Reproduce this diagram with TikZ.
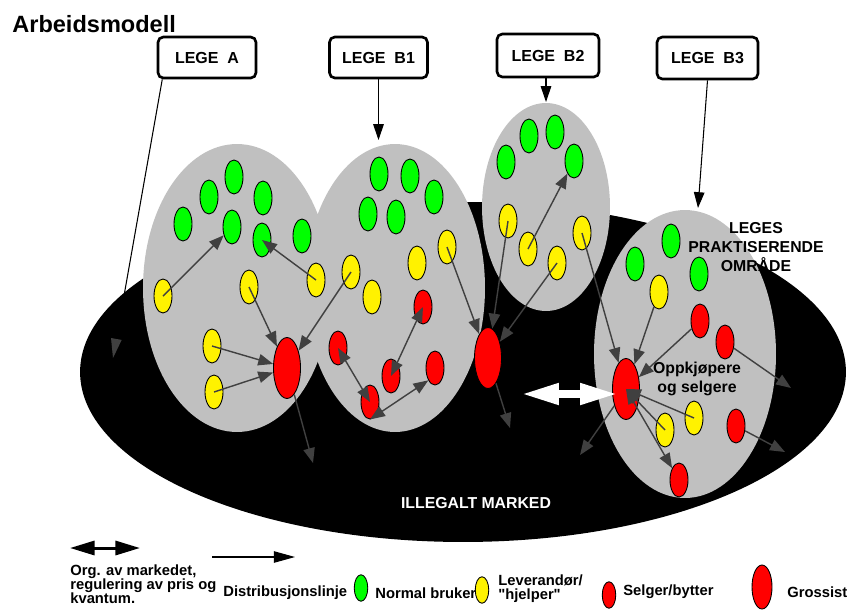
\documentclass[tikz,border=0pt]{standalone}
\usepackage{fontspec}
\setmainfont{Liberation Sans}[Ligatures=TeXOff]
\usetikzlibrary{shapes.geometric,arrows.meta}
\definecolor{areagrey}{HTML}{C0C0C0}
\definecolor{arrgrey}{HTML}{404040}

\begin{document}
\begin{tikzpicture}[
  x=0.02cm, y=-0.02cm,
  eln/.style={ellipse, draw, line width=0.5pt, inner sep=0pt,
              minimum width=0.36cm, minimum height=0.68cm},
  user/.style={eln, fill=green},
  helper/.style={eln, fill=yellow},
  seller/.style={eln, fill=red},
  whole/.style={seller, minimum width=0.54cm, minimum height=1.22cm},
  legsize/.style={minimum width=0.27cm, minimum height=0.53cm},
  legebox/.style={draw, line width=1.5pt, rounded corners=3pt, minimum width=1.96cm,
                  minimum height=0.82cm, inner sep=0pt,
                  font=\fontsize{9.1}{10}\selectfont\bfseries},
  txt/.style={inner sep=0pt, align=center, font=\fontsize{9}{10.8}\selectfont\bfseries},
  legtxt/.style={inner sep=0pt, align=left, font=\fontsize{8.4}{8}\selectfont\bfseries},
  arr/.style={draw=arrgrey, line width=0.8pt, -{Triangle[length=8.5pt,width=6.5pt]}},
  darr/.style={arr, {Triangle[length=8.5pt,width=6.5pt]}-{Triangle[length=8.5pt,width=6.5pt]}},
  lead/.style={line width=0.6pt, -{Triangle[length=9pt,width=6pt]}}
]
  \useasboundingbox (0,0) rectangle (848,609);

  \fill[black] (463,372) ellipse [x radius=7.66cm, y radius=3.4cm];
  \fill[areagrey] (237,288) ellipse [x radius=1.88cm, y radius=2.88cm];
  \fill[areagrey] (395,288) ellipse [x radius=1.8cm, y radius=2.88cm];
  \fill[areagrey] (546,207) ellipse [x radius=1.28cm, y radius=2.08cm];
  \fill[areagrey] (685,354) ellipse [x radius=1.82cm, y radius=2.88cm];

  \node[anchor=base west, inner sep=0pt, font=\fontsize{13.4}{16}\selectfont\bfseries]
    (title) at (12,32) {Arbeidsmodell};

  \node[legebox] (LA)  at (207,57.5) {LEGE~~A};
  \node[legebox] (LB1) at (378.5,57.5) {LEGE~~B1};
  \node[legebox, minimum width=2.04cm, minimum height=0.86cm] (LB2) at (548,55.5) {LEGE~~B2};
  \node[legebox, minimum width=2.02cm, minimum height=0.84cm] (LB3) at (707.5,58) {LEGE~~B3};

  \node[user] (gA1) at (183,224) {};
  \node[user] (gA2) at (209,197) {};
  \node[user] (gA3) at (234,177) {};
  \node[user] (gA4) at (263,198) {};
  \node[user] (gA5) at (232,227) {};
  \node[user] (gA6) at (262,240) {};
  \node[user] (gA7) at (302,236) {};
  \node[helper] (yA1) at (163,296) {};
  \node[helper] (yA2) at (249,287) {};
  \node[helper] (yA3) at (316,280) {};
  \node[helper] (yA4) at (212,346) {};
  \node[helper] (yA5) at (214,392) {};
  \node[whole] (GA) at (287,368) {};

  \node[user] (gB1) at (379,174) {};
  \node[user] (gB2) at (410,176) {};
  \node[user] (gB3) at (434,197) {};
  \node[user] (gB4) at (368,214) {};
  \node[user] (gB5) at (396,217) {};
  \node[helper] (yB1) at (351,272) {};
  \node[helper] (yB2) at (372,297) {};
  \node[helper] (yB3) at (417,263) {};
  \node[helper] (yB4) at (447,247) {};
  \node[seller] (rB1) at (423,307) {};
  \node[seller] (rB2) at (338,348) {};
  \node[seller] (rB3) at (391,376) {};
  \node[seller] (rB4) at (435,368) {};
  \node[seller] (rB5) at (370,402) {};

  \node[whole] (GM) at (488,358) {};

  \node[user] (gC1) at (506,162) {};
  \node[user] (gC2) at (529,136) {};
  \node[user] (gC3) at (555,132) {};
  \node[user] (gC4) at (574,161) {};
  \node[helper] (yC1) at (508,221) {};
  \node[helper] (yC2) at (528,249) {};
  \node[helper] (yC3) at (557,263) {};
  \node[helper] (yC4) at (582,233) {};

  \node[user] (gD1) at (635,264) {};
  \node[user] (gD2) at (671,241) {};
  \node[user] (gD3) at (699,274) {};
  \node[helper] (yD1) at (659,292) {};
  \node[helper] (yD2) at (665,430) {};
  \node[helper] (yD3) at (694,418) {};
  \node[seller] (rD1) at (700,321) {};
  \node[seller] (rD2) at (725,342) {};
  \node[seller] (rD3) at (736,426) {};
  \node[seller] (rD4) at (679,480) {};
  \node[whole] (GD) at (626,389) {};

  \node[txt] (area) at (756,247) {LEGES\\PRAKTISERENDE\\OMRÅDE};
  \node[txt] (buyers) at (697,379) {Oppkjøpere\\og selgere};
  \node[txt, text=white] (illegal) at (476,503) {ILLEGALT MARKED};

  \coordinate (tA)  at (113,358);
  \coordinate (tB1) at (378.5,140);
  \coordinate (tB2) at (546,102);
  \coordinate (tB3) at (698,208);
  \coordinate (oA)  at (313,463);
  \coordinate (oM)  at (510,428);
  \coordinate (oD1) at (791,388);
  \coordinate (oD2) at (785,452);
  \coordinate (oD3) at (580,455);
  \coordinate (wL)  at (522,394);
  \coordinate (wR)  at (617,394);

  \draw[line width=0.6pt, -{Triangle[length=11pt,width=6pt,color=arrgrey]}] (LA.206) -- (tA);
  \draw[lead] (LB1.south) -- (tB1);
  \draw[lead] (LB2.south -| tB2) -- (tB2);
  \draw[lead] (LB3.south) -- (tB3);

  \draw[arr] (yA1.center) -- (gA5);
  \draw[arr] (yA3.center) -- (gA6.center);
  \draw[arr] (yA2.center) -- (GA);
  \draw[arr] (yB1.center) -- (GA);
  \draw[arr] (yA4.center) -- (GA);
  \draw[arr] (yA5.center) -- (GA);
  \draw[arr] (GA) -- (oA);

  \draw[darr] (rB2.center) -- (rB5.center);
  \draw[darr] (rB1.center) -- (rB3.center);
  \draw[darr] (rB5.south) -- (rB4.south west);

  \draw[arr] (yC2.center) -- (gC4);
  \draw[arr] (yC1.center) -- (GM);
  \draw[arr] (yC3.center) -- (GM);
  \draw[arr] (yB4.center) -- (GM);
  \draw[arr] (GM) -- (oM);

  \draw[arr] (yC4.center) -- (GD);
  \draw[arr] (yD1) -- (GD);
  \draw[arr] (rD1) -- (GD);
  \draw[arr] (rD2) -- (oD1);
  \draw[arr] (rD3) -- (oD2);
  \draw[arr] (yD3.center) -- (GD.center);
  \draw[arr] (yD2.center) -- (GD.center);
  \draw[darr] (GD.center) -- (rD4);
  \draw[arr] (GD) -- (oD3);

  \draw[white, line width=4pt, {Triangle[length=21pt,width=11.5pt]}-{Triangle[length=21pt,width=11.5pt]}] (wL) -- (wR);

  \coordinate (kL) at (70,548);
  \coordinate (kR) at (140,548);
  \coordinate (dL) at (212,557);
  \coordinate (dR) at (295,557);
  \draw[line width=1.7pt, {Triangle[length=14pt,width=8pt]}-{Triangle[length=14pt,width=8pt]}] (kL) -- (kR);
  \draw[line width=0.6pt, -{Triangle[length=12pt,width=6.5pt]}] (dL) -- (dR);

  \node[legtxt, anchor=north west] (org) at (70,564)
    {Org. av markedet,\\regulering av pris og\\kvantum.};
  \node[legtxt, anchor=west] (dist) at (223,593) {Distribusjonslinje};
  \node[user, legsize] (lg) at (361,588) {};
  \node[legtxt, anchor=west] (lgt) at (375,593) {Normal bruker};
  \node[helper, legsize] (ly) at (482,590) {};
  \node[legtxt, anchor=west] (lyt) at (498,589) {Leverandør/\\"hjelper"};
  \node[seller, legsize] (lr) at (609,595) {};
  \node[legtxt, anchor=west] (lrt) at (623,592) {Selger/bytter};
  \node[whole, minimum width=0.4cm, minimum height=0.88cm] (lG) at (762,587) {};
  \node[legtxt, anchor=west] (lGt) at (787,592) {Grossist};
\end{tikzpicture}
\end{document}
